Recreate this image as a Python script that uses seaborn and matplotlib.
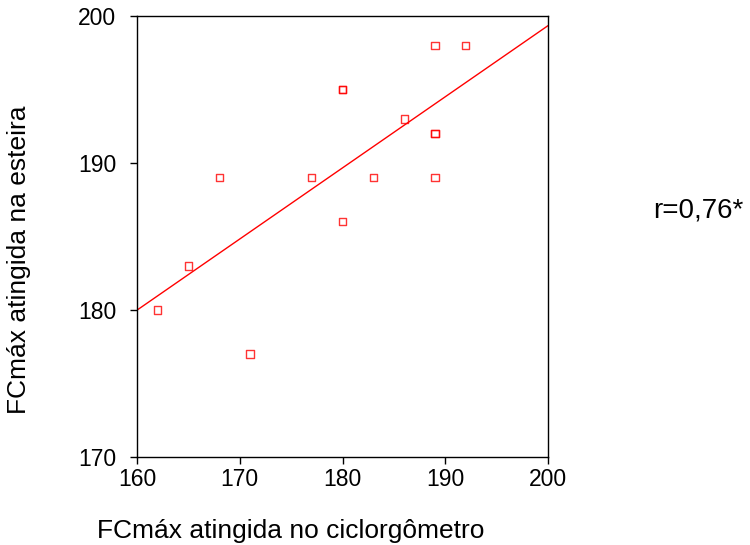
import numpy as np
import pandas as pd
import seaborn as sns
import matplotlib
matplotlib.use("Agg")
import matplotlib.pyplot as plt

# FCmáx no ciclorgômetro (x) e na esteira (y)
fc_ciclo = [162, 165, 168, 171, 177, 180, 180, 180, 183, 186, 189, 189, 189, 189, 192]
fc_esteira = [180, 183, 189, 177, 189, 195, 195, 186, 189, 193, 198, 192, 192, 189, 198]
x_ticks = [160, 170, 180, 190, 200]
y_ticks = [170, 180, 190, 200]

df = pd.DataFrame({"ciclo": fc_ciclo, "esteira": fc_esteira})

sns.set_style("white")
plt.rcParams["font.family"] = ["Liberation Sans", "DejaVu Sans"]
plt.rcParams["text.color"] = "black"

fig = plt.figure(figsize=(7.5, 5.45), dpi=100)
ax = fig.add_axes([0.1827, 0.1615, 0.548, 0.8092])
# limits first so the fitted line runs edge to edge
ax.set_xlim(160, 200)
ax.set_ylim(170, 200)

sns.regplot(data=df, x="ciclo", y="esteira", ax=ax, ci=None, truncate=False,
            marker="s",
            scatter_kws={"s": 28, "facecolors": "none", "edgecolors": "red",
                         "linewidths": 1.0},
            line_kws={"color": "red", "linewidth": 1.0})

ax.set_xlim(160, 200)
ax.set_ylim(170, 200)
ax.set_xticks(x_ticks)
ax.set_yticks(y_ticks)
ax.set_xlabel("")
ax.set_ylabel("")
for s in ax.spines.values():
    s.set_color("black")
    s.set_linewidth(1.0)
ax.tick_params(axis="both", direction="out", length=5, width=1, colors="black",
               labelsize=16.5, left=True, bottom=True)
ax.tick_params(axis="x", pad=3)
ax.tick_params(axis="y", pad=10)

fig.text(0.388, 0.026, "FCmáx atingida no ciclorgômetro", fontsize=19,
         ha="center", va="center")
fig.text(0.025, 0.523, "FCmáx atingida na esteira", fontsize=19,
         ha="center", va="center", rotation=90)
fig.text(0.871, 0.613, "r=0,76*", fontsize=20, ha="left", va="center")

fig.savefig("out.png", dpi=100)
